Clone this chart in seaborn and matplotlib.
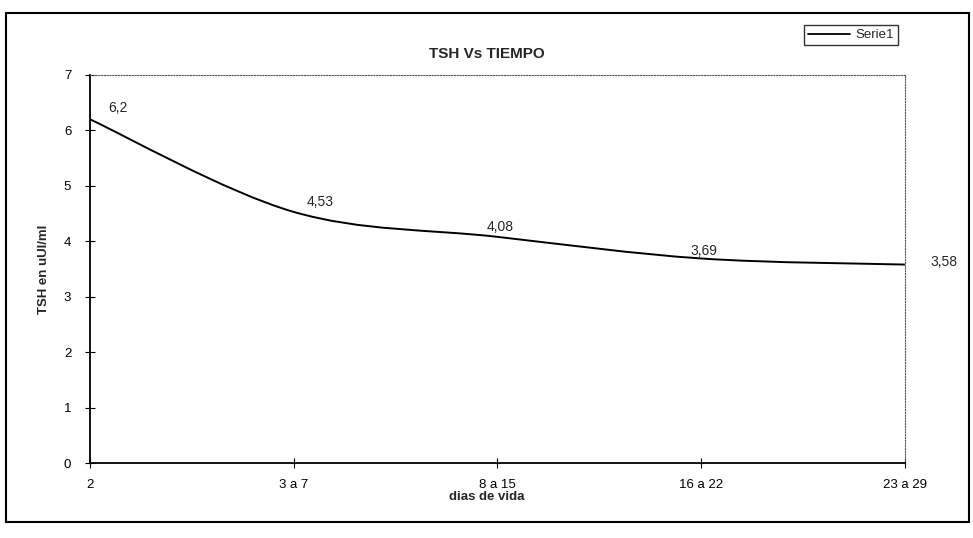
import matplotlib
matplotlib.use("Agg")
import matplotlib.pyplot as plt
from matplotlib.path import Path
from matplotlib.patches import PathPatch
from matplotlib.lines import Line2D
import seaborn as sns
import pandas as pd

categories = ["2", "3 a 7", "8 a 15", "16 a 22", "23 a 29"]
values = [6.2, 4.53, 4.08, 3.69, 3.58]
value_labels = ["6,2", "4,53", "4,08", "3,69", "3,58"]
y_ticks = [0, 1, 2, 3, 4, 5, 6, 7]

sns.set_theme(style="white")
plt.rcParams['font.family'] = ['Liberation Sans', 'DejaVu Sans']

df = pd.DataFrame({"pos": list(range(len(categories))), "TSH": values})

fig = plt.figure(figsize=(9.73, 5.38), dpi=100)
ax = fig.add_axes([0.0925, 0.1394, 0.8375, 0.7212])

# seaborn sets up the scales/axes from the data; the visible line is a smoothed
# rendering (Excel-style Catmull-Rom Bezier) through the same data points
sns.lineplot(data=df, x="pos", y="TSH", color="black", linewidth=0, ax=ax, legend=False)

pts = list(zip(df["pos"], df["TSH"]))
verts = [pts[0]]
codes = [Path.MOVETO]
n = len(pts)
for i in range(n - 1):
    p0 = pts[i - 1] if i > 0 else pts[i]
    p1 = pts[i]
    p2 = pts[i + 1]
    p3 = pts[i + 2] if i + 2 < n else pts[i + 1]
    c1 = (p1[0] + (p2[0] - p0[0]) / 6, p1[1] + (p2[1] - p0[1]) / 6)
    c2 = (p2[0] - (p3[0] - p1[0]) / 6, p2[1] - (p3[1] - p1[1]) / 6)
    verts += [c1, c2, p2]
    codes += [Path.CURVE4] * 3
ax.add_patch(PathPatch(Path(verts, codes), facecolor="none", edgecolor="black", linewidth=1.4))

ax.set_xlim(0, len(categories) - 1)
ax.set_ylim(0, 7)
ax.set_xticks(range(len(categories)))
ax.set_xticklabels(categories, fontsize=9.5)
ax.set_yticks(y_ticks)
ax.set_yticklabels([str(t) for t in y_ticks], fontsize=9.5)
ax.tick_params(axis="both", direction="inout", length=7, width=0.8, colors="black",
               bottom=True, left=True)
ax.tick_params(axis="x", pad=8)
ax.tick_params(axis="y", pad=10)
ax.set_xlabel("")
ax.set_ylabel("")

for side in ["left", "bottom"]:
    ax.spines[side].set_color("black")
    ax.spines[side].set_linewidth(1.3)
for side in ["top", "right"]:
    ax.spines[side].set_color("#555555")
    ax.spines[side].set_linewidth(0.8)
    ax.spines[side].set_linestyle((0, (1, 1.5)))

offsets = [(20, 3), (19, 2), (2, 2), (2, 0), (28, -3)]
for i, (v, lab) in enumerate(zip(values, value_labels)):
    ax.annotate(lab, (i, v), xytext=offsets[i], textcoords="offset points",
                ha="center", va="bottom", fontsize=10, annotation_clip=False)

fig.text(0.5, 0.077, "dias de vida", ha="center", va="center", fontsize=9.5, fontweight="bold")
fig.text(0.045, 0.5, "TSH en uUI/ml", ha="center", va="center", rotation=90,
         fontsize=9.5, fontweight="bold")
fig.text(0.5, 0.900, "TSH Vs TIEMPO", ha="center", va="center", fontsize=11, fontweight="bold")

handle = Line2D([], [], color="black", linewidth=1.3)
leg = ax.legend([handle], ["Serie1"], loc="center", bbox_to_anchor=(0.934, 1.103), frameon=True,
                fontsize=9.5, handlelength=3.2, handletextpad=0.4, borderpad=0.3, fancybox=False)
leg.get_frame().set_edgecolor("black")
leg.get_frame().set_linewidth(1.0)

fig.patches.append(plt.Rectangle((0.006, 0.03), 0.99, 0.945, transform=fig.transFigure,
                                 fill=False, edgecolor="black", linewidth=1.5))

fig.savefig("out.png", dpi=100)
